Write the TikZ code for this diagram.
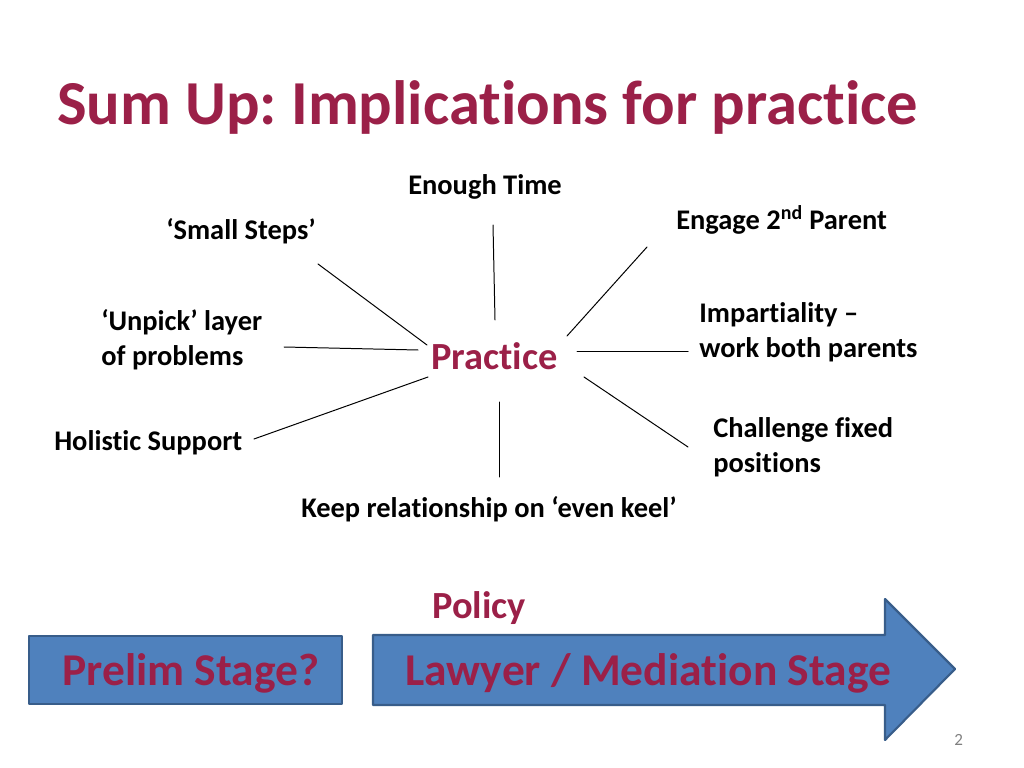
\documentclass[tikz,border=0pt]{standalone}
\usepackage{fontspec}
\setmainfont{Carlito}[Ligatures={TeX,NoCommon}]
\usepackage{xcolor}
\usepackage{tikz}

\definecolor{SlideRed}{HTML}{9B2048}
\definecolor{SlideBlue}{HTML}{4F81BD}
\definecolor{SlideEdge}{HTML}{385D8A}

\begin{document}
\frenchspacing
\begin{tikzpicture}[line cap=round,line join=round,x=0.703125pt,y=-0.703125pt,
  lbl/.style={font=\bfseries\fontsize{20}{24}\selectfont,inner sep=0pt,anchor=base west,align=left},
  spoke/.style={line width=.7pt,color=black},
  stage/.style={draw=SlideEdge,fill=SlideBlue,line width=1.5pt},
  stagetext/.style={font=\bfseries\fontsize{32}{38}\selectfont,color=SlideRed,inner sep=0pt,anchor=base west}]
\useasboundingbox (0,0) rectangle (1024,768);
\node[anchor=base west,inner sep=0pt,color=SlideRed,font=\bfseries\fontsize{44}{53}\selectfont] (title) at (57,125) {Sum Up: Implications for practice};
% centre word
\node[anchor=base west,inner sep=0pt,color=SlideRed,font=\bfseries\fontsize{27}{32}\selectfont] (practice) at (431,369) {Practice};
% labels round it (base = last line)
\node[lbl] (time) at (408,195) {Enough Time};
\node[lbl] (steps) at (166,240) {‘Small Steps’};
\node[lbl] (engage) at (676,230) {Engage 2\textsuperscript{nd} Parent};
\node[lbl] (unpick) at (101,365) {‘Unpick’ layer\\of problems};
\node[lbl] (impart) at (699,357) {Impartiality –\\work both parents};
\node[lbl] (holistic) at (54,450) {Holistic Support};
\node[lbl] (challenge) at (713,472) {Challenge fixed\\positions};
\node[lbl] (keel) at (301,517) {Keep relationship on ‘even keel’};
% spokes
\foreach \n/\xa/\ya/\xb/\yb in {time/495/320/493/225,steps/427/345/318/264,
  unpick/418/350/284/347,holistic/428/377/254/439,keel/499/402/499/477,
  engage/567/336/647/247,impart/577/351/688/351,challenge/584/377/688/447}
{
\coordinate (\n-in) at (\xa,\ya);
\coordinate (\n-out) at (\xb,\yb);
\draw[spoke] (\n-in) -- (\n-out);
}
% stages
\node[anchor=base west,inner sep=0pt,color=SlideRed,font=\bfseries\fontsize{27}{32}\selectfont] (policy) at (432,618) {Policy};
\draw[stage] (29,636) rectangle (342,704);
\draw[stage] (373,635) -- (885,635) -- (885,599) -- (955,669) -- (885,740) -- (885,705) -- (373,705) -- cycle;
\node[stagetext] (prelim) at (62,685) {Prelim Stage?};
\node[stagetext] (lawyer) at (405,685) {Lawyer / Mediation Stage};
\node[anchor=base west,inner sep=0pt,color=gray,font=\fontsize{12}{14}\selectfont] (pagenum) at (954,745) {2};
\end{tikzpicture}
\end{document}
